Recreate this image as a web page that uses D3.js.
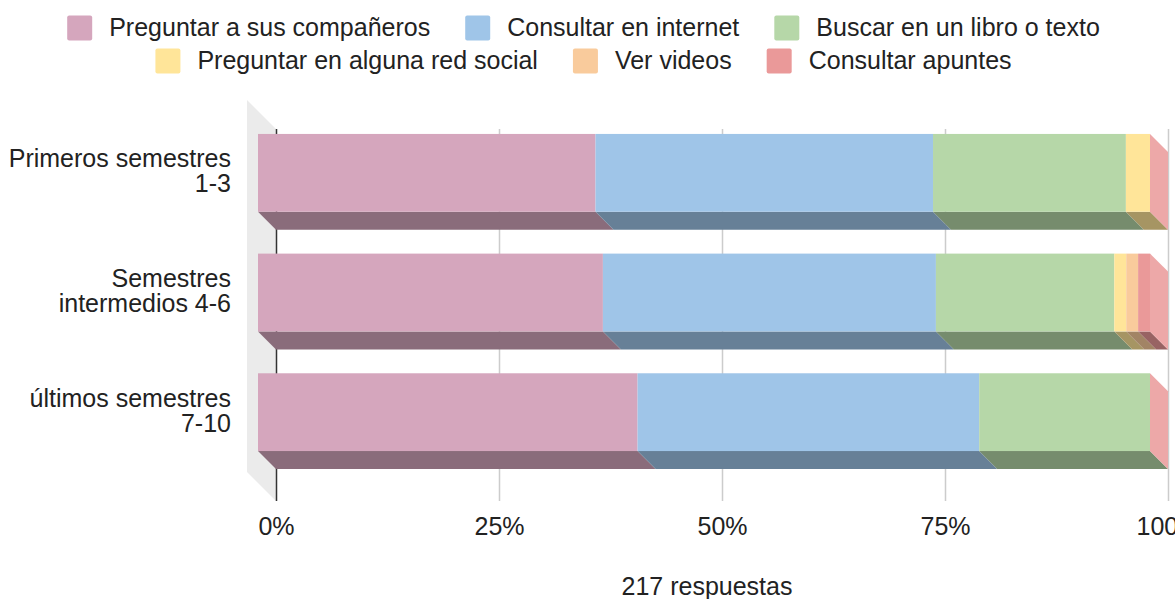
<!DOCTYPE html>
<html>
<head>
<meta charset="utf-8">
<script src="https://cdn.jsdelivr.net/npm/d3@7"></script>
<style>
  body { margin: 0; background: #fff; }
  svg text { font-family: "Liberation Sans", Arial, sans-serif; fill: #222; }
</style>
</head>
<body>
<div class="container-viewer"></div>
<script>
//* DATOS *//
// Categorias (filas del grafico)
const categories = [
  ['Primeros semestres', '1-3'],
  ['Semestres', 'intermedios 4-6'],
  ['últimos semestres', '7-10']
];
// Series (leyenda) y sus colores
const seriesNames = [
  'Preguntar a sus compañeros', 'Consultar en internet', 'Buscar en un libro o texto',
  'Preguntar en alguna red social', 'Ver videos', 'Consultar apuntes'
];
const seriesColors = ['#d5a6bd', '#9fc5e8', '#b6d7a8', '#ffe599', '#f9cb9c', '#ea9999'];
// Respuestas por fila, se normalizan a 100%
const primeros = [14, 14, 8, 1, 0, 0];
const intermedios = [29, 28, 15, 1, 1, 1];
const ultimos = [20, 18, 9, 0, 0, 0];
const tickValues = [0, 0.25, 0.5, 0.75, 1];
const footer = '217 respuestas';

//* DIBUJO *//
const width = 1175, height = 599;
const depth = 18; // desplazamiento 3D de la cara frontal
const fontSize = 25;
const svg = d3.select('.container-viewer').append('svg').attr('width', width).attr('height', height);

const rows = [primeros, intermedios, ultimos].map((vals, i) => {
  const total = d3.sum(vals);
  let acc = 0;
  const segs = vals.map((v, k) => {
    const s = { k, x0: acc / total, x1: (acc + v) / total };
    acc += v;
    return s;
  });
  return { key: categories[i].join(' '), label: categories[i], segs };
});

const x = d3.scaleLinear().domain([0, 1]).range([276, 1168]);
const y = d3.scaleBand().domain(rows.map((r) => r.key)).range([131, 490]).paddingInner(0.35).paddingOuter(0.175);
const yTop = 129, yBot = 501;

// pared lateral izquierda
svg.append('polygon')
  .attr('points', [[x(0) - 29, yTop - 29], [x(0), yTop], [x(0), yBot], [x(0) - 29, yBot - 29]].join(' '))
  .attr('fill', '#ebebeb');

// rejilla + eje
const axis = svg.append('g').attr('transform', `translate(0,${yBot})`)
  .call(d3.axisBottom(x).tickValues(tickValues).tickFormat(d3.format('.0%')).tickSize(-(yBot - yTop)).tickPadding(16));
axis.select('.domain').remove();
axis.selectAll('line').attr('stroke', (d) => (d === 0 ? '#333' : '#ccc')).attr('stroke-width', 1.5);
axis.selectAll('text').attr('font-size', fontSize).attr('fill', '#222').attr('font-family', '"Liberation Sans", Arial, sans-serif');

const shade = (c, k) => { const r = d3.rgb(c); return d3.rgb(r.r * k, r.g * k, r.b * k).formatHex(); };

// barras 3D
rows.forEach((row) => {
  const bt = y(row.key), bb = bt + y.bandwidth();
  const g = svg.append('g');
  row.segs.forEach((s) => {
    const a = x(s.x0), b = x(s.x1);
    if (b > a) {
      g.append('polygon')
        .attr('points', [[a - depth, bb - depth], [b - depth, bb - depth], [b, bb], [a, bb]].join(' '))
        .attr('fill', shade(seriesColors[s.k], 0.65));
      g.append('rect')
        .attr('x', a - depth).attr('y', bt - depth)
        .attr('width', b - a).attr('height', bb - bt)
        .attr('fill', seriesColors[s.k]);
    }
  });
  // cara derecha (ultima serie)
  const last = row.segs[row.segs.length - 1];
  const e = x(last.x1);
  g.append('polygon')
    .attr('points', [[e - depth, bt - depth], [e, bt], [e, bb], [e - depth, bb - depth]].join(' '))
    .attr('fill', d3.interpolateRgb(seriesColors[last.k], '#fff')(0.15));

  // etiqueta de la categoria
  const c = bt - depth + y.bandwidth() / 2;
  const t = svg.append('text').attr('text-anchor', 'end').attr('font-size', fontSize);
  t.append('tspan').attr('x', 231).attr('y', c - 5.5).text(row.label[0]);
  t.append('tspan').attr('x', 231).attr('y', c + 19.5).text(row.label[1]);
});

// leyenda en dos filas centradas
const legendRows = [[0, 1, 2], [3, 4, 5]];
const legendY = [28, 61];
const measure = svg.append('text').attr('font-size', fontSize);
legendRows.forEach((idx, r) => {
  const widths = idx.map((k) => measure.text(seriesNames[k]).node().getComputedTextLength());
  const total = d3.sum(widths) + idx.length * (25 + 17) + (idx.length - 1) * 35;
  let cx = 583.5 - total / 2;
  idx.forEach((k, j) => {
    svg.append('rect').attr('x', cx).attr('y', legendY[r] - 12.5).attr('width', 25).attr('height', 25)
      .attr('rx', 2).attr('fill', seriesColors[k]);
    svg.append('text').attr('x', cx + 25 + 17).attr('y', legendY[r] + 7.5).attr('font-size', fontSize).text(seriesNames[k]);
    cx += 25 + 17 + widths[j] + 35;
  });
});
measure.remove();

// pie
svg.append('text').attr('x', 707).attr('y', 595).attr('text-anchor', 'middle').attr('font-size', fontSize).text(footer);
</script>
</body>
</html>
